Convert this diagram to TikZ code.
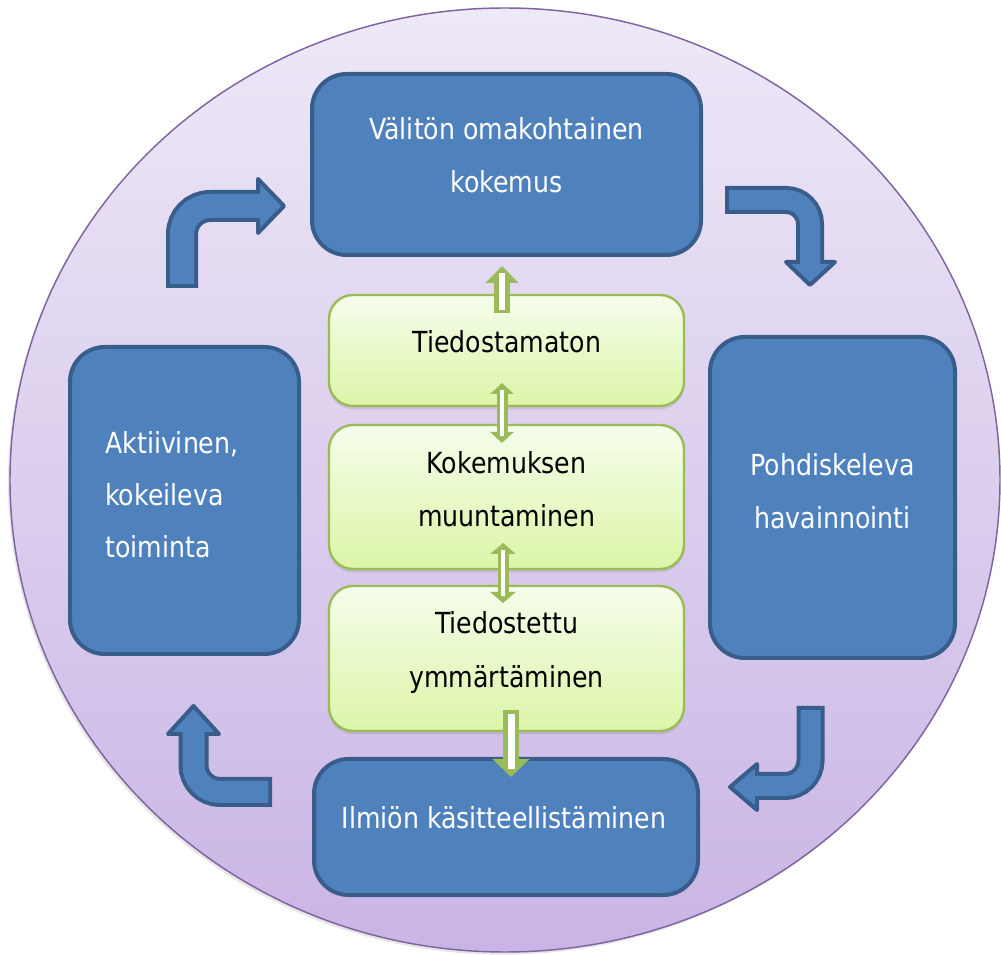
\documentclass[tikz,border=0pt]{standalone}
\usepackage{fontspec}
\setmainfont[FakeStretch=0.87]{DejaVu Sans}
\usetikzlibrary{shadows,arrows.meta}
\definecolor{bfill}{HTML}{4F81BD}
\definecolor{bdark}{HTML}{385D8A}
\definecolor{gline}{HTML}{9BBB59}
\definecolor{gtop}{HTML}{F5FDEC}
\definecolor{gbot}{HTML}{DCF5A8}
\definecolor{etop}{HTML}{EEE8F7}
\definecolor{ebot}{HTML}{C9B5E5}
\definecolor{eline}{HTML}{8064A2}
\begin{document}
\begin{tikzpicture}[x=0.75pt,y=-0.75pt,
  bluebox/.style={draw=bdark, fill=bfill, line width=3pt, rounded corners=26pt, inner sep=0pt},
  greenbox/.style={draw=gline, top color=gtop, bottom color=gbot, line width=1.8pt,
    rounded corners=18pt, inner sep=0pt, minimum width=266.25pt,
    drop shadow={shadow xshift=0pt, shadow yshift=-2.5pt, opacity=0.22}},
  wtxt/.style={text=white, anchor=base, inner sep=0pt, font=\fontsize{21.75pt}{26pt}\selectfont},
  ktxt/.style={text=black, anchor=base, inner sep=0pt, font=\fontsize{21.75pt}{26pt}\selectfont},
  garrow/.style={draw=gline, line width=12pt},
  gsmall/.style={draw=gline, line width=8.25pt},
  bshaft/.style={draw=bdark, line cap=butt},
  bhead/.style={fill=bfill, draw=bdark, line width=3pt, line join=round},
]
\useasboundingbox (0,0) rectangle (1001,955);

% background ellipse
\draw[eline, line width=1.1pt, top color=etop, bottom color=ebot,
  drop shadow={shadow xshift=-1.5pt, shadow yshift=-2pt, opacity=0.2}]
  (505,480) ellipse [x radius=371.25pt, y radius=354pt];

% blue boxes
\node[bluebox, minimum width=291.75pt, minimum height=135.75pt] (top) at (506.5,164.5) {};
\node[bluebox, minimum width=171.75pt, minimum height=230.25pt] (left) at (184.5,500.5) {};
\node[bluebox, minimum width=183.75pt, minimum height=240.75pt] (right) at (832.5,497.5) {};
\node[bluebox, minimum width=288pt, minimum height=102pt] (bottom) at (506,827) {};

\node[wtxt] (top1) at (506.5,140) {Välitön omakohtainen};
\node[wtxt] (top2) at (506.5,193) {kokemus};
\node[wtxt, anchor=base west] (left1) at (105,454) {Aktiivinen,};
\node[wtxt, anchor=base west] (left2) at (105,506) {kokeileva};
\node[wtxt, anchor=base west] (left3) at (105,558) {toiminta};
\node[wtxt] (right1) at (832.5,476) {Pohdiskeleva};
\node[wtxt] (right2) at (832.5,529) {havainnointi};
\node[wtxt] (bottom1) at (504,829) {Ilmiön käsitteellistäminen};

% green boxes
\node[greenbox, minimum height=83.25pt] (g1) at (506.5,350.5) {};
\node[greenbox, minimum height=108pt] (g2) at (506.5,497) {};
\node[greenbox, minimum height=108.75pt] (g3) at (506.5,658.5) {};

\node[ktxt] (g1a) at (507,353) {Tiedostamaton};
\node[ktxt] (g2a) at (506.5,474) {Kokemuksen};
\node[ktxt] (g2b) at (506.5,527) {muuntaminen};
\node[ktxt] (g3a) at (506.5,634) {Tiedostettu};
\node[ktxt] (g3b) at (506.5,688) {ymmärtäminen};

% green arrows
\coordinate (a1s) at (502,313);
\coordinate (a1e) at (502,266);
\coordinate (a2s) at (502,383);
\coordinate (a2e) at (502,443);
\coordinate (a3s) at (503,543);
\coordinate (a3e) at (503,603);
\coordinate (a4s) at (511,710);
\coordinate (a4e) at (511,777);

\draw[garrow, -{Triangle[width=24pt,length=12.75pt]}] (a1s) -- (a1e);
\draw[white, line width=4.5pt, shorten <=2.25pt, shorten >=5.5pt] (a1s) -- (a1e);

\draw[gsmall, {Triangle[width=17.25pt,length=8.25pt]}-{Triangle[width=17.25pt,length=8.25pt]}] (a2s) -- (a2e);
\draw[white, line width=2.6pt, shorten <=5pt, shorten >=5pt] (a2s) -- (a2e);

\draw[gsmall, {Triangle[width=18.75pt,length=8.25pt]}-{Triangle[width=18.75pt,length=8.25pt]}] (a3s) -- (a3e);
\draw[white, line width=2.6pt, shorten <=5pt, shorten >=5pt] (a3s) -- (a3e);

\draw[garrow, -{Triangle[width=27pt,length=13.5pt]}] (a4s) -- (a4e);
\draw[white, line width=5.25pt, shorten <=3pt, shorten >=6pt] (a4s) -- (a4e);

% blue bent arrows
% top-left (up then right)
\coordinate (tl0) at (182,288); \coordinate (tl1) at (182,206); \coordinate (tl2) at (258,206);
\draw[bshaft, line width=24pt, rounded corners=21pt] (tl0) -- (tl1) -- (tl2);
\draw[bhead] (258,179) -- (284,206) -- (258,233) -- cycle;
\draw[bfill, line width=18pt, rounded corners=21pt, shorten <=3pt, shorten >=-4pt] (tl0) -- (tl1) -- (tl2);

% top-right (right then down)
\coordinate (tr0) at (725,200); \coordinate (tr1) at (810,200); \coordinate (tr2) at (810,262);
\draw[bshaft, line width=21pt, rounded corners=18pt] (tr0) -- (tr1) -- (tr2);
\draw[bhead] (786,262) -- (810,285) -- (835,262) -- cycle;
\draw[bfill, line width=15pt, rounded corners=18pt, shorten <=3pt, shorten >=-4pt] (tr0) -- (tr1) -- (tr2);

% bottom-right (down then left)
\coordinate (br0) at (810.5,706); \coordinate (br1) at (810.5,786); \coordinate (br2) at (757,786);
\draw[bshaft, line width=21pt, rounded corners=19pt] (br0) -- (br1) -- (br2);
\draw[bhead] (757,764) -- (730,787) -- (757,810) -- cycle;
\draw[bfill, line width=15pt, rounded corners=19pt, shorten <=3pt, shorten >=-4pt] (br0) -- (br1) -- (br2);

% bottom-left (left then up)
\coordinate (bl0) at (272,792); \coordinate (bl1) at (193.5,792); \coordinate (bl2) at (193.5,734);
\draw[bshaft, line width=22.5pt, rounded corners=20pt] (bl0) -- (bl1) -- (bl2);
\draw[bhead] (168,734) -- (193.5,706) -- (219,734) -- cycle;
\draw[bfill, line width=16.5pt, rounded corners=20pt, shorten <=3pt, shorten >=-4pt] (bl0) -- (bl1) -- (bl2);
\end{tikzpicture}
\end{document}
